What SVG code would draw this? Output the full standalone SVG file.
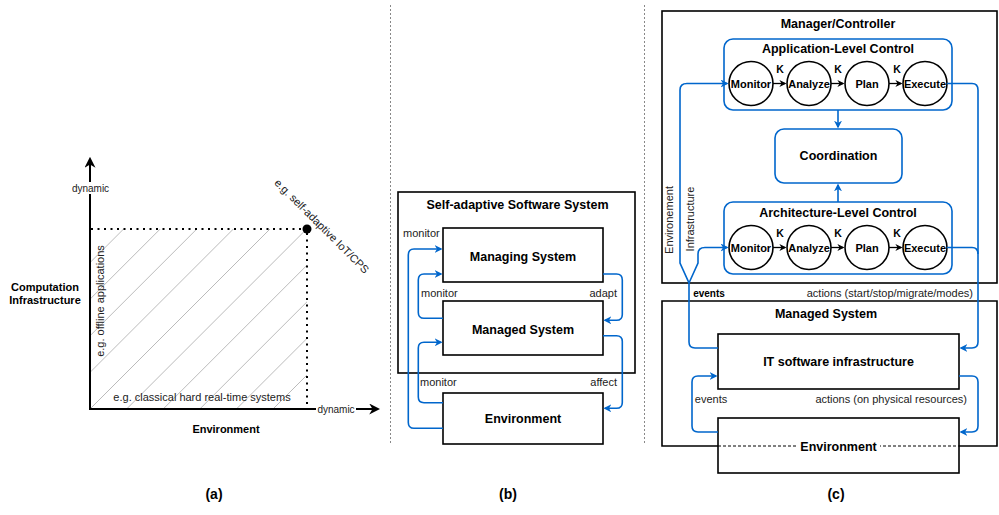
<svg xmlns="http://www.w3.org/2000/svg" width="999" height="515" viewBox="0 0 999 515">
<defs>
<style>
text{font-family:"Liberation Sans",Arial,Helvetica,sans-serif;fill:#000;dominant-baseline:central}
.b{font-weight:bold}
.t11{font-size:11px}
.t10{font-size:10px}
.t12{font-size:12.5px;font-weight:bold}
.gr{fill:#222}
.m{text-anchor:middle}
.e{text-anchor:end}
.box{fill:#fff;stroke:#000;stroke-width:1.6}
.cbox{fill:#fff;stroke:#0066cc;stroke-width:1.6}
.circ{fill:#fff;stroke:#000;stroke-width:1.6}
.conn{fill:none;stroke:#0066cc;stroke-width:1.6}
.karr{stroke:#000;stroke-width:1.3;fill:none}
.sep{stroke:#888;stroke-width:1;stroke-dasharray:2 2}
.dot{stroke:#000;stroke-width:2;stroke-dasharray:2 4.5;fill:none}
.hatch{stroke:#aaa;stroke-width:0.8}
</style>
<marker id="ab" markerUnits="userSpaceOnUse" viewBox="0 0 10 10" markerWidth="8" markerHeight="8" refX="8" refY="5" orient="auto"><path d="M0,0 L10,5 L0,10 L3,5 z" fill="#0066cc"/></marker>
<marker id="ak" markerUnits="userSpaceOnUse" viewBox="0 0 10 10" markerWidth="7" markerHeight="7" refX="8" refY="5" orient="auto"><path d="M0,0 L10,5 L0,10 L3,5 z" fill="#000"/></marker>
<marker id="ax" markerUnits="userSpaceOnUse" viewBox="0 0 10 10" markerWidth="11" markerHeight="11" refX="8" refY="5" orient="auto"><path d="M0,0 L10,5 L0,10 L3,5 z" fill="#000"/></marker>
<clipPath id="hc"><rect x="90" y="229" width="217" height="180"/></clipPath>
</defs>
<rect width="999" height="515" fill="#fff"/>

<!-- separators -->
<g id="separators">
<line class="sep" x1="390.5" y1="5" x2="390.5" y2="445"/>
<line class="sep" x1="644.5" y1="5" x2="644.5" y2="445"/>
</g>

<!-- Panel (a) -->
<g id="panel-a">
<g class="hatch" clip-path="url(#hc)">
<line x1="-56.4" y1="409" x2="123.6" y2="229"/>
<line x1="-19.8" y1="409" x2="160.2" y2="229"/>
<line x1="16.8" y1="409" x2="196.8" y2="229"/>
<line x1="53.4" y1="409" x2="233.4" y2="229"/>
<line x1="90" y1="409" x2="270" y2="229"/>
<line x1="126.6" y1="409" x2="306.6" y2="229"/>
<line x1="163.2" y1="409" x2="343.2" y2="229"/>
<line x1="199.8" y1="409" x2="379.8" y2="229"/>
<line x1="236.4" y1="409" x2="416.4" y2="229"/>
<line x1="273" y1="409" x2="453" y2="229"/>
</g>
<line class="dot" x1="91" y1="229" x2="303" y2="229"/>
<line class="dot" x1="307" y1="233" x2="307" y2="408"/>
<circle cx="307" cy="229" r="4.5" fill="#000"/>
<line x1="90" y1="410" x2="90" y2="159" stroke="#000" stroke-width="2" marker-end="url(#ax)"/>
<line x1="89" y1="409" x2="378" y2="409" stroke="#000" stroke-width="2" marker-end="url(#ax)"/>
<rect x="71" y="182" width="39" height="12" fill="#fff"/>
<text class="t10 gr m" x="90.5" y="188">dynamic</text>
<rect x="316" y="403" width="40" height="12" fill="#fff"/>
<text class="t10 gr m" x="336" y="409">dynamic</text>
<text class="t11 gr m" transform="translate(99.5,301) rotate(-90)" x="0" y="0">e.g. offline applications</text>
<text class="t11 gr m" x="202" y="397">e.g. classical hard real-time systems</text>
<text class="t11 gr m" transform="translate(322,226) rotate(45)" x="0" y="0">e.g. self-adaptive IoT/CPS</text>
<text class="t11 b m" x="45" y="287">Computation</text>
<text class="t11 b m" x="45" y="299.5">Infrastructure</text>
<text class="t11 b m" x="226" y="429">Environment</text>
<text class="b m" style="font-size:14px" x="214" y="494">(a)</text>
</g>

<!-- Panel (b) -->
<g id="panel-b">
<g id="b-self-adaptive">
<rect class="box" x="398" y="192" width="237" height="181"/>
<text class="t12 m" x="517.5" y="205">Self-adaptive Software System</text>
</g>
<g id="b-managing"><rect class="box" x="443" y="228" width="160" height="54"/><text class="t12 m" x="523" y="257">Managing System</text></g>
<g id="b-managed"><rect class="box" x="443" y="301" width="160" height="54"/><text class="t12 m" x="523" y="330">Managed System</text></g>
<g id="b-environment"><rect class="box" x="443" y="393" width="160" height="51"/><text class="t12 m" x="523" y="419">Environment</text></g>
<g id="b-connectors">
<path class="conn" d="M443,428.3 H414 Q408.3,428.3 408.3,422.5 V255 Q408.3,249 414,249 H441" marker-end="url(#ab)"/>
<path class="conn" d="M443,318.3 H424 Q418.3,318.3 418.3,312.5 V280 Q418.3,274 424,274 H441" marker-end="url(#ab)"/>
<path class="conn" d="M603,274 H616.5 Q622.3,274 622.3,280 V314.5 Q622.3,320.3 616.5,320.3 H605" marker-end="url(#ab)"/>
<path class="conn" d="M603,335.7 H616.5 Q622.3,335.7 622.3,341.5 V402.5 Q622.3,408.3 616.5,408.3 H605" marker-end="url(#ab)"/>
<path class="conn" d="M443,402.7 H424 Q418.3,402.7 418.3,397 V348 Q418.3,342.3 424,342.3 H441" marker-end="url(#ab)"/>
</g>
<text class="t11 gr" x="403" y="233">monitor</text>
<text class="t11 gr" x="421" y="293">monitor</text>
<text class="t11 gr" x="420" y="382">monitor</text>
<text class="t11 gr e" x="617" y="293">adapt</text>
<text class="t11 gr e" x="617" y="382">affect</text>
<text class="b m" style="font-size:14px" x="508" y="494">(b)</text>
</g>

<!-- Panel (c) -->
<g id="panel-c">
<g id="c-manager">
<rect class="box" x="662" y="11" width="335" height="272"/>
<text class="t12 m" x="838" y="24">Manager/Controller</text>
</g>
<g id="c-managed-system">
<rect fill="#fff" x="662" y="301" width="335" height="145"/>
<path d="M718,446 H662 V301 H997 V446 H959" fill="none" stroke="#000" stroke-width="1.6"/>
<text class="t12 m" x="826" y="314">Managed System</text>
</g>
<g id="c-app-level">
<rect class="cbox" x="724" y="39" width="228" height="71" rx="9"/>
<text class="t12 m" x="838" y="49">Application-Level Control</text>
<circle class="circ" cx="751" cy="83.5" r="22"/><text class="t11 b m" x="751" y="83.5">Monitor</text>
<circle class="circ" cx="809" cy="83.5" r="22"/><text class="t11 b m" x="809" y="83.5">Analyze</text>
<circle class="circ" cx="867" cy="83.5" r="22"/><text class="t11 b m" x="867" y="83.5">Plan</text>
<circle class="circ" cx="925" cy="83.5" r="22"/><text class="t11 b m" x="925" y="83.5">Execute</text>
<line class="karr" x1="773" y1="83.5" x2="785" y2="83.5" marker-end="url(#ak)"/>
<line class="karr" x1="831" y1="83.5" x2="843" y2="83.5" marker-end="url(#ak)"/>
<line class="karr" x1="889" y1="83.5" x2="901" y2="83.5" marker-end="url(#ak)"/>
<text class="b m" style="font-size:10.5px" x="780" y="69">K</text>
<text class="b m" style="font-size:10.5px" x="838" y="69">K</text>
<text class="b m" style="font-size:10.5px" x="897" y="69">K</text>
</g>
<g id="c-coordination">
<rect class="cbox" x="775" y="129" width="127" height="54" rx="9"/>
<text class="t12 m" x="838.5" y="156">Coordination</text>
</g>
<g id="c-arch-level">
<rect class="cbox" x="724" y="202" width="228" height="72" rx="9"/>
<text class="t12 m" x="838" y="213">Architecture-Level Control</text>
<circle class="circ" cx="751" cy="247.5" r="22"/><text class="t11 b m" x="751" y="247.5">Monitor</text>
<circle class="circ" cx="809" cy="247.5" r="22"/><text class="t11 b m" x="809" y="247.5">Analyze</text>
<circle class="circ" cx="867" cy="247.5" r="22"/><text class="t11 b m" x="867" y="247.5">Plan</text>
<circle class="circ" cx="925" cy="247.5" r="22"/><text class="t11 b m" x="925" y="247.5">Execute</text>
<line class="karr" x1="773" y1="247.5" x2="785" y2="247.5" marker-end="url(#ak)"/>
<line class="karr" x1="831" y1="247.5" x2="843" y2="247.5" marker-end="url(#ak)"/>
<line class="karr" x1="889" y1="247.5" x2="901" y2="247.5" marker-end="url(#ak)"/>
<text class="b m" style="font-size:10.5px" x="780" y="233">K</text>
<text class="b m" style="font-size:10.5px" x="838" y="233">K</text>
<text class="b m" style="font-size:10.5px" x="897" y="233">K</text>
</g>
<g id="c-it-infra">
<rect class="box" x="718" y="334" width="241" height="55"/>
<text class="t12 m" x="838.5" y="362">IT software infrastructure</text>
</g>
<g id="c-environment">
<rect class="box" x="718" y="418" width="241" height="55"/>
<line x1="718" y1="446" x2="959" y2="446" stroke="#000" stroke-width="1" stroke-dasharray="3 2"/>
<rect x="798" y="439" width="82" height="15" fill="#fff"/>
<text class="t12 m" x="838.5" y="447">Environment</text>
</g>
<g id="c-connectors">
<path class="conn" d="M838,110 V127" marker-end="url(#ab)"/>
<path class="conn" d="M838,202 V185" marker-end="url(#ab)"/>
<path class="conn" d="M718,348 H695 Q689,348 689,342 V283 L680,263 V90 Q680,83.5 687,83.5 H727" marker-end="url(#ab)"/>
<path class="conn" d="M689,283 L698,263 V254 Q698,247.5 705,247.5 H727" marker-end="url(#ab)"/>
<path class="conn" d="M947,83.5 H972 Q978,83.5 978,90 V342 Q978,348 972,348 H961" marker-end="url(#ab)"/>
<path class="conn" d="M947,247.5 H972 Q978,247.5 978,254"/>
<path class="conn" d="M718,432 H698 Q692,432 692,426 V382 Q692,376 698,376 H716" marker-end="url(#ab)"/>
<path class="conn" d="M959,376 H972 Q978,376 978,382 V426 Q978,432 972,432 H961" marker-end="url(#ab)"/>
</g>
<text class="t11 gr m" transform="translate(669,220) rotate(-90)" x="0" y="0">Environement</text>
<text class="t11 gr m" transform="translate(690,219) rotate(-90)" x="0" y="0">Infrastructure</text>
<text class="b m" style="font-size:10px" x="709" y="293">events</text>
<text class="t11 gr e" x="973" y="293">actions (start/stop/migrate/modes)</text>
<text class="t11 gr m" x="711" y="399">events</text>
<text class="t11 gr e" x="967" y="399">actions (on physical resources)</text>
<text class="b m" style="font-size:14px" x="836" y="494">(c)</text>
</g>
</svg>
